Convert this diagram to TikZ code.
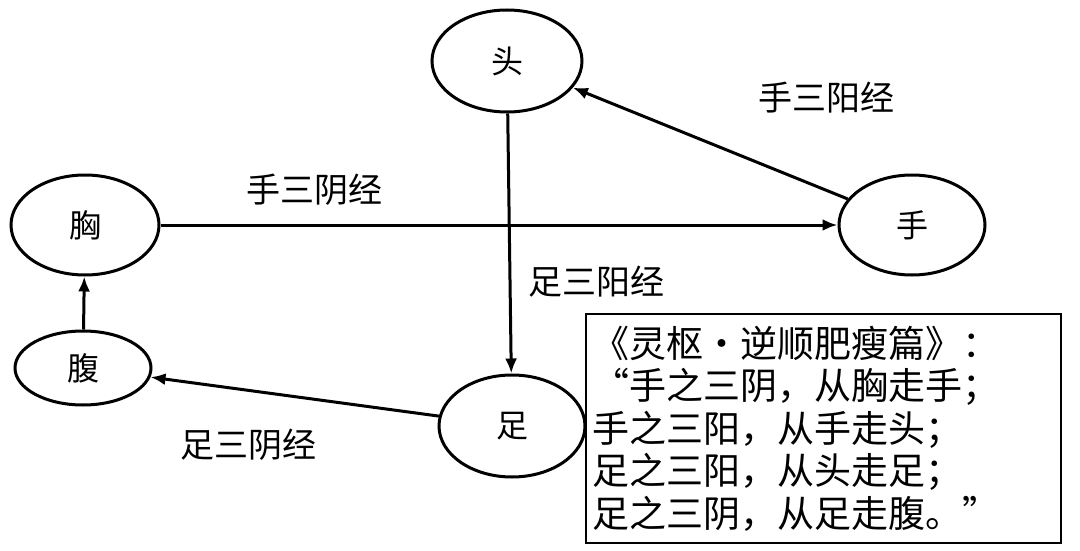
\documentclass[tikz,border=0pt]{standalone}
\usepackage{fontspec}
\newfontfamily\cjk{Noto Sans CJK SC}
\usetikzlibrary{shapes,arrows,arrows.meta,positioning}
\begin{document}
\begin{tikzpicture}[x=1pt,y=-1pt]
  \tikzset{part node/.style={ellipse, draw, line width=3pt,
  		text centered, font=\cjk\fontsize{32}{36}\selectfont}, }
  \tikzset{lbl node/.style={font=\cjk\fontsize{34}{38}\selectfont}, }
  \tikzset{linea/.style={-{Latex[length=15pt,width=12pt]}, line width=3pt}, }
\useasboundingbox (0,0) rectangle (1080,551);
\node[part node, minimum width=150, minimum height=102] (tou) at (507,61) {头};
\node[part node, minimum width=148, minimum height=100] (xiong) at (85,225) {胸};
\node[part node, minimum width=146, minimum height=100] (shou) at (912,225) {手};
\node[part node, minimum width=136, minimum height=74] (fu) at (83,368) {腹};
\node[part node, minimum width=146, minimum height=102] (zu) at (512,426) {足};
\path[linea] (xiong) edge (shou);
\path[linea] (tou) edge (zu);
\path[linea] (shou) edge (tou);
\path[linea] (zu) edge (fu);
\path[linea] (fu) edge (xiong);
\node[lbl node] (l1) at (826,98) {手三阳经};
\node[lbl node] (l2) at (314,190) {手三阴经};
\node[lbl node] (l3) at (596,282) {足三阳经};
\node[lbl node] (l4) at (248,445) {足三阴经};
\node[draw, line width=2pt, fill=white, anchor=north west, minimum width=475,
  minimum height=229, inner sep=5pt, align=left, text width=462,
  font=\cjk\fontsize{37}{42.5}\selectfont] (box) at (585,313)
  {《灵枢·逆顺肥瘦篇》：\\“手之三阴，从胸走手；\\手之三阳，从手走头；\\足之三阳，从头走足；\\足之三阴，从足走腹。”};
\end{tikzpicture}
\end{document}
